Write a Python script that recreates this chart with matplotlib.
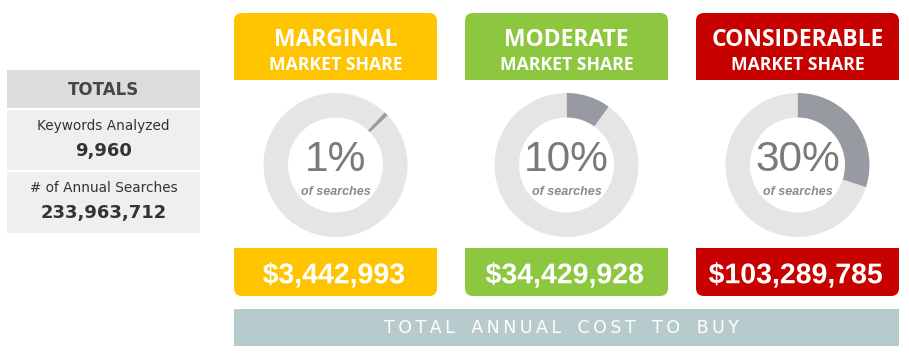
import matplotlib
matplotlib.use("Agg")
from matplotlib import pyplot as plt
from matplotlib.patches import FancyBboxPatch, Rectangle, PathPatch
from matplotlib.textpath import TextPath
from matplotlib.font_manager import FontProperties
from matplotlib.transforms import Affine2D

# data
levels = ["MARGINAL", "MODERATE", "CONSIDERABLE"]
shares = [1, 10, 30]
costs = ["$3,442,993", "$34,429,928", "$103,289,785"]
colors = ["#FFC400", "#8DC63F", "#C70000"]
wedge_offset = [43, 0, 0]   # degrees clockwise from 12 o'clock where the wedge starts
total_labels = ["Keywords Analyzed", "# of Annual Searches"]
total_values = ["9,960", "233,963,712"]

W, H = 909, 355
fig = plt.figure(figsize=(W / 100, H / 100), dpi=100)
ax = fig.add_axes([0, 0, 1, 1])
ax.set_xlim(0, W)
ax.set_ylim(H, 0)
ax.axis("off")


def rbox(x0, y0, x1, y1, color, round_top, round_bottom, r=8):
    ax.add_patch(FancyBboxPatch((x0 + r, y0 + r), x1 - x0 - 2 * r, y1 - y0 - 2 * r,
                                boxstyle="round,pad=%d" % r, fc=color, ec="none"))
    if not round_top:
        ax.add_patch(Rectangle((x0, y0), x1 - x0, (y1 - y0) / 2, fc=color, ec="none"))
    if not round_bottom:
        ax.add_patch(Rectangle((x0, (y0 + y1) / 2), x1 - x0, (y1 - y0) / 2, fc=color, ec="none"))


def narrow_text(cx, cy, s, cap_h, sx, color):
    # bold text drawn from glyph outlines, squeezed horizontally
    tp = TextPath((0, 0), s, size=100, prop=FontProperties(family="Liberation Sans", weight="bold"))
    ext = tp.get_extents()
    k = cap_h / 72.0
    tr = (Affine2D().translate(-(ext.x0 + ext.x1) / 2, -36)
          .scale(k * sx, -k).translate(cx, cy))
    ax.add_patch(PathPatch(tr.transform_path(tp), fc=color, ec="none"))


# totals panel
ax.add_patch(Rectangle((7, 70), 193, 38, fc="#DCDCDC", ec="none"))
ax.add_patch(Rectangle((7, 110), 193, 60, fc="#EFEFEF", ec="none"))
ax.add_patch(Rectangle((7, 172), 193, 61, fc="#EFEFEF", ec="none"))
ax.text(103.5, 90, "TOTALS", ha="center", va="center", fontsize=12,
        fontweight="bold", color="#454545", family="DejaVu Sans")
for i in range(2):
    y = 110 + i * 62
    ax.text(103.5, y + 16, total_labels[i], ha="center", va="center",
            fontsize=9.8, color="#333333", family="DejaVu Sans")
    ax.text(103.5, y + 41, total_values[i], ha="center", va="center",
            fontsize=13, fontweight="bold", color="#333333", family="DejaVu Sans")

# columns
col_x = [234, 465, 696]
col_w = 203
for i in range(3):
    x0 = col_x[i]
    x1 = x0 + col_w
    cx = (x0 + x1) / 2
    rbox(x0, 13, x1, 80, colors[i], True, False)
    ax.text(cx, 40, levels[i], ha="center", va="center", fontsize=16.5,
            fontweight="bold", color="white", family="Open Sans")
    ax.text(cx, 65, "MARKET SHARE", ha="center", va="center", fontsize=12.7,
            fontweight="bold", color="white", family="Open Sans")

    rbox(x0, 248, x1, 296, colors[i], False, True)
    narrow_text(cx - 2, 273, costs[i], 20.5, 1.0, "white")

    # donut
    dcx, dcy, rr = cx, 165, 72
    dax = fig.add_axes([(dcx - rr) / W, 1 - (dcy + rr) / H, 2 * rr / W, 2 * rr / H])
    dax.pie([shares[i], 100 - shares[i]], colors=["#979BA1", "#E5E5E5"],
            startangle=90 - wedge_offset[i], counterclock=False,
            wedgeprops=dict(width=0.34, linewidth=0))
    dax.set_xlim(-1, 1)
    dax.set_ylim(-1, 1)
    dax.set_aspect("equal")
    dax.text(0, 0.07, "%d%%" % shares[i], ha="center", va="center", fontsize=30.5,
             color="#7A7A7A", family="Liberation Sans")
    dax.text(0, -0.38, "of searches", ha="center", va="center", fontsize=9,
             style="italic", fontweight="bold", color="#8A8A8A", family="Liberation Sans")

# bottom bar
ax.add_patch(Rectangle((234, 309), 665, 37, fc="#B7CBCD", ec="none"))
label = "TOTAL ANNUAL COST TO BUY"
ax.text(561, 328, "\u2009".join(label).replace("\u2009 \u2009", "   "),
        ha="center", va="center", fontsize=12.5, fontweight="medium",
        color="white", family="DejaVu Sans")

fig.savefig("out.png", dpi=100)
